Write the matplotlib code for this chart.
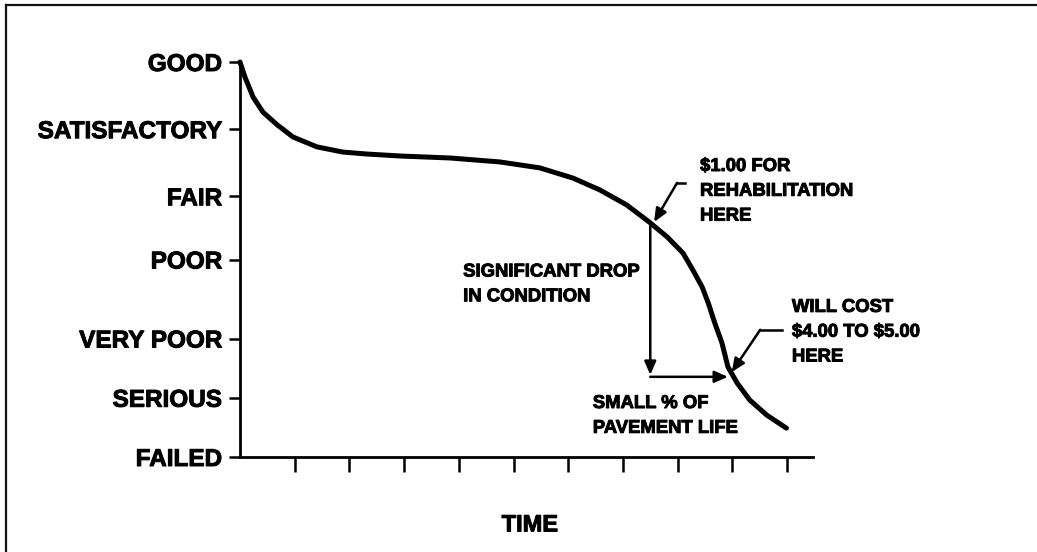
import matplotlib
matplotlib.use("Agg")
import matplotlib.pyplot as plt
from matplotlib.lines import Line2D
import matplotlib.patheffects as pe

plt.rcParams['font.family'] = ['Liberation Sans', 'DejaVu Sans']
plt.rcParams['font.weight'] = 'bold'

# ---- data ----
condition_labels = ["FAILED", "SERIOUS", "VERY POOR", "POOR", "FAIR", "SATISFACTORY", "GOOD"]
condition_values = [0, 15, 30, 50, 66, 83, 100]
time_ticks = [1, 2, 3, 4, 5, 6, 7, 8, 9, 10]

curve_time = [0.0, 0.09, 0.24, 0.42, 0.68, 0.97, 1.41, 1.88, 2.32, 2.93, 3.84, 4.75,
              5.48, 6.09, 6.58, 7.07, 7.48, 7.81, 8.10, 8.28, 8.45, 8.56, 8.68, 8.81,
              8.92, 9.09, 9.32, 9.63, 9.99]
curve_condition = [100, 96.2, 91.1, 87.3, 84.1, 81.0, 78.5, 77.2, 76.7, 76.2, 75.7, 74.7,
                   73.2, 70.6, 67.6, 63.8, 59.5, 55.7, 51.6, 47.3, 43.0, 39.0, 33.9, 28.9,
                   22.8, 18.7, 14.4, 10.6, 7.3]

W, H = 1037, 552
fig = plt.figure(figsize=(W / 100, H / 100), dpi=100)
fig.patch.set_facecolor('white')

ax = fig.add_axes([240 / W, 95 / H, (813 - 240) / W, (457 - 62) / H])
ax.set_xlim(0, 10.475)
ax.set_ylim(0, 100)

ax.plot(curve_time, curve_condition, color='black', lw=3.6, solid_capstyle='round',
        solid_joinstyle='round', clip_on=False)

for s in ['top', 'right']:
    ax.spines[s].set_visible(False)
for s in ['left', 'bottom']:
    ax.spines[s].set_linewidth(2.0)
    ax.spines[s].set_color('black')

heavy = [pe.withStroke(linewidth=0.7, foreground='black')]

ax.set_yticks(condition_values)
ax.set_yticklabels(condition_labels, fontsize=17.5, fontweight='bold')
for lab in ax.get_yticklabels():
    lab.set_path_effects(heavy)
ax.set_xticks(time_ticks)
ax.set_xticklabels([])
ax.tick_params(axis='y', direction='out', length=8, width=1.8, pad=5)
ax.tick_params(axis='x', direction='out', length=10.5, width=1.8)

txt = dict(fontsize=13.3, fontweight='bold', color='black', clip_on=False,
           linespacing=1.6, path_effects=heavy)
arrow = dict(arrowstyle='-|>,head_length=0.8,head_width=0.35',
             color='black', lw=1.8, shrinkA=0, shrinkB=0)

# annotation 1
ax.text(8.41, 75.7, "\\$1.00 FOR\nREHABILITATION\nHERE", ha='left', va='top', **txt)
ax.plot([8.135, 7.99], [69.4, 69.4], color='black', lw=1.8, clip_on=False)
ax.annotate("", xy=(7.57, 59.5), xytext=(7.99, 69.4), arrowprops=arrow)

# vertical / horizontal arrows
ax.annotate("", xy=(7.50, 20.8), xytext=(7.50, 58.7), arrowprops=arrow)
ax.annotate("", xy=(8.92, 20.3), xytext=(7.50, 20.3), arrowprops=arrow)

ax.text(4.08, 43.7, "SIGNIFICANT DROP\nIN CONDITION", ha='left', va='center', **txt)
ax.text(6.45, 10.4, "SMALL % OF\nPAVEMENT LIFE", ha='left', va='center', **txt)

# annotation 2
ax.text(10.09, 31.6, "WILL COST\n\\$4.00 TO \\$5.00\nHERE", ha='left', va='center', **txt)
ax.plot([9.91, 9.51], [32.2, 32.2], color='black', lw=1.8, clip_on=False)
ax.annotate("", xy=(8.99, 21.5), xytext=(9.51, 32.2), arrowprops=arrow)

ax.text(5.30, -17.2, "TIME", ha='center', va='center', fontsize=17, fontweight='bold',
        clip_on=False, path_effects=heavy)

# outer frame (top and left)
fig.add_artist(Line2D([6 / W, 1.0], [1 - 5 / H, 1 - 5 / H], transform=fig.transFigure,
                      color='#111111', lw=1.6))
fig.add_artist(Line2D([6 / W, 6 / W], [0, 1 - 5 / H], transform=fig.transFigure,
                      color='#111111', lw=1.6))

fig.savefig("out.png", dpi=100, facecolor='white')
